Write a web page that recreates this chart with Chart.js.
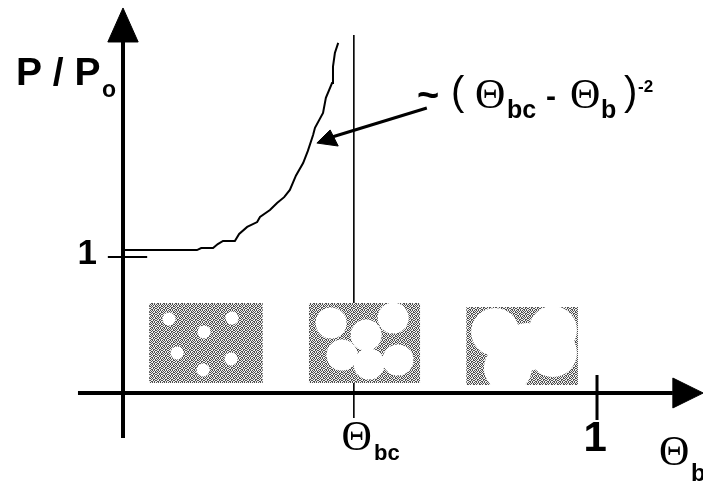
<!DOCTYPE html>
<html><head><meta charset="utf-8">
<style>html,body{margin:0;padding:0;background:#fff}canvas{display:block}</style>
<script src="https://cdn.jsdelivr.net/npm/chart.js@4"></script>
</head><body><canvas id="c" width="703" height="481"></canvas>
<script>
// axis ticks
const xTickValues = [0.493, 0.996];
const xTickLabels = ['Θ', '1'];
const yTickValues = [1.02];
const yTickLabels = ['1'];
// measured curve
const curveX = [0.004,0.080,0.156,0.165,0.190,0.200,0.211,0.236,0.245,0.262,0.283,0.289,0.310,0.325,0.340,0.352,0.365,0.380,0.390,0.401,0.405,0.422,0.428,0.441,0.443,0.447,0.454];
const curveY = [1.051,1.051,1.051,1.066,1.066,1.095,1.118,1.118,1.170,1.221,1.257,1.294,1.345,1.397,1.440,1.493,1.600,1.691,1.780,1.897,1.950,2.059,2.170,2.279,2.400,2.500,2.574];
// reference lines
const critX = [0.487,0.487];       const critY = [2.632,-0.184];
const yAxisX = [0,0];              const yAxisY = [-0.331,2.588];
const xAxisX = [-0.095,1.160];     const xAxisY = [0,0];
const tick1X = [1,1];              const tick1Y = [0.132,-0.199];
const tickYX = [-0.032,0.051];     const tickYY = [1,1];
const arrowX = [0.641,0.441];      const arrowY = [2.096,1.882];
// arrow heads
const headUpX = [-0.032,0,0.032,-0.032];      const headUpY = [2.581,2.831,2.581,2.581];
const headRightX = [1.160,1.224,1.160,1.160]; const headRightY = [0.110,0,-0.110,0.110];
const headPtrX = [0.409,0.437,0.454,0.409];   const headPtrY = [1.838,1.934,1.816,1.838];
// inset panels
const panel1X = [0.055,0.295]; const panel1Y = [0.662,0.662]; const panel1Base = 0.074;
const panel2X = [0.392,0.627]; const panel2Y = [0.662,0.662]; const panel2Base = 0.074;
const panel3X = [0.724,0.960]; const panel3Y = [0.632,0.632]; const panel3Base = 0.059;
// inclusions
const dots1X = [0.097,0.230,0.171,0.114,0.228,0.169];
const dots1Y = [0.544,0.551,0.449,0.294,0.250,0.169];
const dots2X = [0.439,0.570,0.513,0.462,0.519,0.580];
const dots2Y = [0.515,0.551,0.426,0.279,0.213,0.243];
const dots3X = [0.785,0.907,0.812,0.907,0.852];
const dots3Y = [0.449,0.463,0.184,0.294,0.338];

const zip = (a,b) => a.map((v,i)=>({x:v,y:b[i]}));

function ditherPattern(){
  const rows = ['#.#..#','.#.##.','#..#.#','.##.#.','#.#.#.','.#.#.#'];
  const c = document.createElement('canvas'); c.width=6; c.height=6;
  const g = c.getContext('2d');
  g.fillStyle='#f0f0f0'; g.fillRect(0,0,6,6);
  g.fillStyle='#505050';
  rows.forEach((r,y)=>[...r].forEach((ch,x)=>{ if(ch==='#') g.fillRect(x,y,1,1); }));
  return g.createPattern(c,'repeat');
}
const gray = ditherPattern();

const line = (x,y,width,order,extra={}) => Object.assign({
  data:zip(x,y), showLine:true, borderColor:'#000', borderWidth:width,
  pointRadius:0, pointHoverRadius:0, fill:false, tension:0, order
},extra);
const panel = (x,y,base) => line(x,y,0,9,{backgroundColor:gray, fill:{value:base}});
const dots = (x,y,r) => ({
  data:zip(x,y), showLine:false, pointRadius:r, pointHoverRadius:r,
  pointBackgroundColor:'#fff', pointBorderWidth:0, order:8
});
const head = (x,y) => line(x,y,1,1,{backgroundColor:'#000', fill:'shape'});

const sans = 'bold SZpx "Liberation Sans"';
const f = s => sans.replace('SZ',s);
const serif = s => s+'px "Liberation Serif"';
const textLabels = [
  ['P / P', 16, 85, f(39)], ['o', 102, 97, f(23)],
  ['~', 417, 108, f(38)], ['(', 451, 105, '40px "Liberation Sans"'],
  ['Θ', 475, 108, serif(42)], ['bc', 507, 118, f(25)],
  ['-', 546, 106, f(30)],
  ['Θ', 570, 108, serif(42)], ['b', 601, 118, f(25)],
  [')', 624, 105, '40px "Liberation Sans"'], ['-2', 638, 92, f(17)],
  ['bc', 374, 460, f(22)],
  ['Θ', 659, 465, serif(42)], ['b', 691, 481, f(24)]
];
const textPlugin = { id:'textLabels', afterDraw(ch){
  const g = ch.ctx; g.save(); g.fillStyle='#000'; g.textBaseline='alphabetic'; g.textAlign='left';
  textLabels.forEach(([t,x,y,font])=>{ g.font=font; g.fillText(t,x,y); });
  g.restore();
}};

new Chart(document.getElementById('c'),{
  type:'scatter',
  data:{datasets:[
    line(critX,critY,1.6,10),
    panel(panel1X,panel1Y,panel1Base),
    panel(panel2X,panel2Y,panel2Base),
    panel(panel3X,panel3Y,panel3Base),
    dots(dots1X,dots1Y,6.5),
    dots(dots2X,dots2Y,15.5),
    dots(dots3X,dots3Y,24),
    line(curveX,curveY,2,2),
    line(yAxisX,yAxisY,4,1),
    line(xAxisX,xAxisY,4,1),
    line(tick1X,tick1Y,3,1),
    line(tickYX,tickYY,2,1),
    line(arrowX,arrowY,3,1),
    head(headUpX,headUpY),
    head(headRightX,headRightY),
    head(headPtrX,headPtrY)
  ]},
  options:{
    responsive:false, animation:false,
    layout:{padding:0,autoPadding:false},
    plugins:{legend:{display:false},tooltip:{enabled:false}},
    scales:{
      x:{type:'linear',min:-0.2595,max:1.2236,position:{y:0},
        grid:{display:false},border:{display:false},
        afterBuildTicks:s=>{s.ticks=xTickValues.map(v=>({value:v}));},
        afterFit:s=>{s.height=0;s.paddingLeft=0;s.paddingRight=0;},
        ticks:{autoSkip:false,maxRotation:0,minRotation:0,color:'#000',padding:13,
          callback:(v,i)=>xTickLabels[i],
          font:c=>c.index===0?{family:'Liberation Serif',size:42}:{family:'Liberation Sans',size:42,weight:'bold'}}},
      y:{type:'linear',min:-0.647,max:2.8897,position:{x:-0.055},
        grid:{display:false},border:{display:false},
        afterBuildTicks:s=>{s.ticks=yTickValues.map(v=>({value:v}));},
        afterFit:s=>{s.width=0;s.paddingTop=0;s.paddingBottom=0;},
        ticks:{autoSkip:false,color:'#000',padding:0,
          callback:(v,i)=>yTickLabels[i],
          font:{family:'Liberation Sans',size:35,weight:'bold'}}}
    }
  },
  plugins:[textPlugin]
});
</script></body></html>
